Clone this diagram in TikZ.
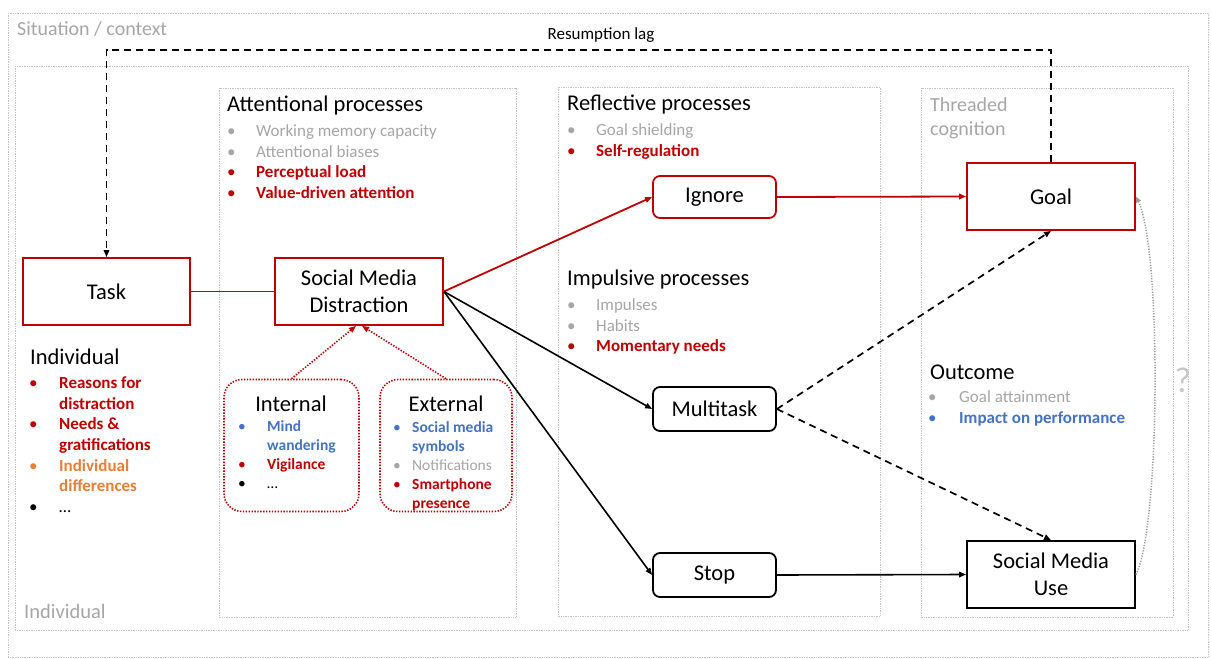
\documentclass[tikz,border=0pt]{standalone}
\usepackage{fontspec}
\setmainfont{Carlito}
\usetikzlibrary{arrows.meta}
\definecolor{cRed}{HTML}{C00000}
\definecolor{cOrange}{HTML}{ED7D31}
\definecolor{cBlue}{HTML}{4472C4}
\definecolor{cGray}{HTML}{A6A6A6}
\definecolor{cCurve}{HTML}{9A9A9A}
\definecolor{cFrame}{HTML}{C4C4C4}
\definecolor{cQ}{HTML}{C8C8C8}
% font size with line spacing
\newcommand\fsz[2]{\fontsize{#1}{#2}\selectfont}
% bullet item: bullet box width, colour, text
\newcommand\bul[3]{\makebox[#1][l]{\textcolor{#2}{•}}{\color{#2}#3}}
% continuation line of a bullet item
\newcommand\cnt[3]{\hspace*{#1}{\color{#2}#3}}
\newcommand\firstline{\rule{0pt}{0.8em}}
\begin{document}
\begin{tikzpicture}[x=1pt,y=-1pt,
  frame/.style={draw=cFrame, densely dotted, line width=0.7pt},
  boxbase/.style={line width=1.8pt, fill=white, align=center, inner sep=0pt,
    font=\fsz{22.5}{27.5}},
  redbox/.style={boxbase, draw=cRed},
  blkbox/.style={boxbase, draw=black},
  rnd/.style={rounded corners=7pt},
  dotbox/.style={draw=cRed, line width=1.6pt, dash pattern=on 1.4pt off 1.5pt,
    rounded corners=18pt},
  ttl/.style={inner sep=0pt, anchor=west, font=\fsz{22.5}{27.5}},
  lst/.style={inner sep=0pt, anchor=north west, align=left, font=\fsz{17}{20.7}},
  slst/.style={inner sep=0pt, anchor=north west, align=left, font=\fsz{15.5}{18.9}},
  arr/.style={-{Triangle[length=7pt,width=5.5pt]}},
  redln/.style={draw=cRed, line width=1.8pt},
  blkln/.style={draw=black, line width=1.6pt},
  dsh/.style={draw=black, line width=1.7pt, dash pattern=on 7pt off 5pt},
  reddot/.style={draw=cRed, line width=1.6pt, dash pattern=on 1.4pt off 1.5pt},
  gcurve/.style={draw=cCurve, line width=1.5pt, dash pattern=on 1.2pt off 1.5pt}
]
\useasboundingbox (0,0) rectangle (1211,659);

% nested context frames
\draw[frame] (8,13) rectangle (1208,657);
\draw[frame] (15,66) rectangle (1188,630);
\draw[frame] (219,88) rectangle (516,617);
\draw[frame] (558,87) rectangle (880,616);
\draw[frame] (921,88) rectangle (1173,617);

\node[inner sep=0pt, anchor=west, text=cGray, font=\fsz{20}{24}] (sit) at (17,29) {Situation / context};
\node[inner sep=0pt, anchor=west, text=cGray, font=\fsz{20.5}{25}] (indiv) at (24,611) {Individual};

% main boxes
\node[redbox, minimum width=167pt, minimum height=67pt] (task) at (106.5,291.5) {Task};
\node[redbox, minimum width=168pt, minimum height=67pt] (smd) at (359,291.5) {Social Media\\Distraction};
\node[redbox, rnd, minimum width=123pt, minimum height=42pt] (ign) at (714.5,197) {Ignore};
\node[redbox, minimum width=168pt, minimum height=67pt] (goal) at (1051,196.5) {Goal};
\node[blkbox, rnd, minimum width=123pt, minimum height=44pt] (multi) at (714.5,409) {Multitask};
\node[blkbox, rnd, minimum width=123pt, minimum height=44pt] (stop) at (714.5,575) {Stop};
\node[blkbox, minimum width=168pt, minimum height=67pt] (smu) at (1051,574.5) {Social Media\\Use};

% internal / external triggers
\node[dotbox, minimum width=135pt, minimum height=132pt] (int) at (291.5,445.5) {};
\node[dotbox, minimum width=132pt, minimum height=132pt] (ext) at (446,445.5) {};
\node[inner sep=0pt, font=\fsz{22.5}{27.5}] (intt) at (291,404) {Internal};
\node[inner sep=0pt, font=\fsz{22.5}{27.5}] (extt) at (446,404) {External};
\node[slst] (intl) at (238,419) {\firstline\bul{29pt}{cBlue}{\bfseries Mind}\\
  \cnt{29pt}{cBlue}{\bfseries wandering}\\
  \bul{29pt}{cRed}{\bfseries Vigilance}\\
  \bul{29pt}{black}{…}};
\node[slst] (extl) at (393,420) {\firstline\bul{19pt}{cBlue}{\bfseries Social media}\\
  \cnt{19pt}{cBlue}{\bfseries symbols}\\
  \bul{19pt}{cGray}{Notifications}\\
  \bul{19pt}{cRed}{\bfseries Smartphone}\\
  \cnt{19pt}{cRed}{\bfseries presence}};

% attentional processes
\node[ttl] (attt) at (227,105) {Attentional processes};
\node[lst] (attl) at (227,122.5) {\firstline\bul{29pt}{cGray}{Working memory capacity}\\
  \bul{29pt}{cGray}{Attentional biases}\\
  \bul{29pt}{cRed}{\bfseries Perceptual load}\\
  \bul{29pt}{cRed}{\bfseries Value-driven attention}};

% reflective and impulsive processes
\node[ttl] (reft) at (567,105) {Reflective processes};
\node[lst] (refl) at (567,121.5) {\firstline\bul{29pt}{cGray}{Goal shielding}\\
  \bul{29pt}{cRed}{\bfseries Self-regulation}};
\node[ttl] (impt) at (567,279) {Impulsive processes};
\node[lst] (impl) at (567,296.5) {\firstline\bul{29pt}{cGray}{Impulses}\\
  \bul{29pt}{cGray}{Habits}\\
  \bul{29pt}{cRed}{\bfseries Momentary needs}};

% threaded cognition and outcome
\node[inner sep=0pt, anchor=north west, align=left, text=cGray, font=\fsz{20}{24}] (thr) at (930,95) {\firstline Threaded\\cognition};
\node[ttl] (outt) at (930,372) {Outcome};
\node[lst] (outl) at (928,388.5) {\firstline\bul{31pt}{cGray}{Goal attainment}\\
  \bul{31pt}{cBlue}{\bfseries Impact on performance}};

% individual factors
\node[ttl] (indt) at (30,357) {Individual};
\node[lst] (indl) at (29,374.5) {\firstline\bul{30pt}{cRed}{\bfseries Reasons for}\\
  \cnt{30pt}{cRed}{\bfseries distraction}\\
  \bul{30pt}{cRed}{\bfseries Needs \&}\\
  \cnt{30pt}{cRed}{\bfseries gratifications}\\
  \bul{30pt}{cOrange}{\bfseries Individual}\\
  \cnt{30pt}{cOrange}{\bfseries differences}\\
  \bul{30pt}{black}{…}};

% resumption lag
\coordinate (lagR) at (1051,50);
\draw[dsh, arr] (goal.north) -- (lagR) -| (task.north);
\node[inner sep=0pt, font=\fsz{17}{20}] (lag) at (601,35) {Resumption lag};

% connectors
\draw[redln] (task.east) -- (smd.west);
\draw[redln, arr] (smd.east) -- (ign.west);
\draw[redln, arr] (ign.east) -- (goal.west);
\draw[blkln, arr] (smd.east) -- (multi.west);
\draw[blkln, arr] (smd.east) -- (stop.west);
\draw[blkln, arr] (stop.east) -- (smu.west);
\draw[dsh, arr] (multi.east) -- (goal.south);
\draw[dsh, arr] (multi.east) -- (smu.north);
\draw[reddot, arr] (int.north) -- ([xshift=-3pt]smd.south);
\draw[reddot, arr] (ext.north) -- ([xshift=3pt]smd.south);

% feedback from use to goal
\draw[gcurve, -{Triangle[length=6pt,width=5pt]}] (smu.east) .. controls (1160,530) and (1162,250) .. (goal.east);
\node[inner sep=0pt, text=cQ, font=\fsz{36}{40}] (q) at (1183,380) {?};
\end{tikzpicture}
\end{document}
